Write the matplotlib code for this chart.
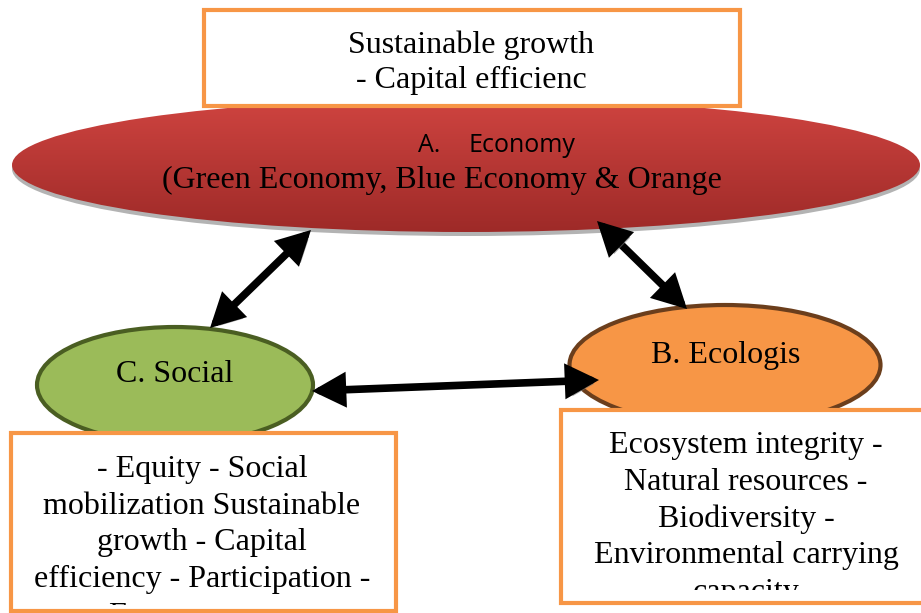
import matplotlib
matplotlib.use("Agg")
import numpy as np
import matplotlib.pyplot as plt
import matplotlib.patheffects as pe
from matplotlib.patches import Ellipse, Rectangle, FancyArrowPatch
from matplotlib.transforms import Bbox, TransformedBbox

# texts of the diagram
top_lines = ["Sustainable growth", "- Capital efficienc"]
economy_label = ["A.", "Economy"]
economy_sub = "(Green Economy, Blue Economy & Orange"
social_label = "C. Social"
ecology_label = "B. Ecologis"
social_lines = ["- Equity - Social", "mobilization Sustainable", "growth - Capital",
                "efficiency - Participation -", "Empowerment"]
ecology_lines = ["Ecosystem integrity -", "Natural resources -", "Biodiversity -",
                 "Environmental carrying", "capacity"]
links = [("C", "A"), ("A", "B"), ("C", "B")]

# layout (pixel coords, y down)
arrow_ends = {("C", "A"): ((210, 328), (311, 230)),
              ("A", "B"): ((597, 221), (687, 309)),
              ("C", "B"): ((312, 391), (599, 380))}

SERIF = "Liberation Serif"
ORANGE = "#F79646"
FS = 23

fig = plt.figure(figsize=(9.21, 6.13), dpi=100)
ax = fig.add_axes([0, 0, 1, 1])
ax.set_xlim(0, 921)
ax.set_ylim(613, 0)
ax.axis("off")


def box(x0, y0, x1, y1):
    r = Rectangle((x0, y0), x1 - x0, y1 - y0, facecolor="white", edgecolor=ORANGE,
                  lw=3, zorder=4)
    ax.add_patch(r)


def box_text(lines, cx, base0, step, clip):
    cb = TransformedBbox(Bbox([[clip[0], clip[1]], [clip[2], clip[3]]]), ax.transData)
    for i, line in enumerate(lines):
        t = ax.text(cx, base0 + i * step, line, ha="center", va="baseline",
                    fontsize=FS, family=SERIF, zorder=5)
        t.set_clip_on(True)
        t.set_clip_box(cb)


# economy ellipse: shadow + gradient fill
cx, cy, w, h = 466, 165, 908, 134
ax.add_patch(Ellipse((cx, cy + 4), w, h, facecolor="#b3b3b3", edgecolor="none", zorder=1))
eco = Ellipse((cx, cy), w, h, facecolor="none", edgecolor="none", zorder=2)
ax.add_patch(eco)
top_c = np.array([207, 68, 64]) / 255
bot_c = np.array([158, 42, 40]) / 255
g = np.linspace(0, 1, 200)[:, None]
grad = top_c[None, None, :] * (1 - g[..., None]) + bot_c[None, None, :] * g[..., None]
grad = np.repeat(grad, 2, axis=1)
im = ax.imshow(grad, extent=(cx - w / 2, cx + w / 2, cy + h / 2, cy - h / 2),
               origin="upper", aspect="auto", zorder=2, interpolation="bilinear")
im.set_clip_path(eco)
ax.set_xlim(0, 921)
ax.set_ylim(613, 0)

ax.text(418, 152, economy_label[0], ha="left", va="baseline", fontsize=18,
        family="Open Sans", zorder=3)
ax.text(468, 152, economy_label[1], ha="left", va="baseline", fontsize=18,
        family="Open Sans", zorder=3)
ax.text(442, 188, economy_sub, ha="center", va="baseline", fontsize=FS,
        family=SERIF, zorder=3)

# social and ecology ellipses
ax.add_patch(Ellipse((175, 385), 276, 116, facecolor="#9BBB59", edgecolor="#4A5E22",
                     lw=3, zorder=2))
ax.text(175, 382, social_label, ha="center", va="baseline", fontsize=FS,
        family=SERIF, zorder=3)
ax.add_patch(Ellipse((725, 365), 311, 120, facecolor=ORANGE, edgecolor="#6B3E1C",
                     lw=3, zorder=2))
ax.text(726, 363, ecology_label, ha="center", va="baseline", fontsize=FS,
        family=SERIF, zorder=3)

# text boxes
box(204, 10, 740, 106)
for i, line in enumerate(top_lines):
    ax.text(471, 53 + i * 35, line, ha="center", va="baseline", fontsize=FS,
            family=SERIF, zorder=5)

box(11, 433, 396, 611)
box_text(social_lines, 202, 477, 36.7, (11, 433, 396, 605))

box(561, 410, 925, 603)
box_text(ecology_lines, 746, 453, 36.8, (561, 410, 925, 590))

# double arrows with shadow
for a, b in links:
    p0, p1 = arrow_ends[(a, b)]
    arr = FancyArrowPatch(p0, p1, arrowstyle="<|-|>,head_length=0.8,head_width=0.42",
                          mutation_scale=20, lw=5.5, color="black", shrinkA=0, shrinkB=0,
                          joinstyle="miter", zorder=6)
    arr.set_path_effects([pe.SimplePatchShadow(offset=(2.5, -2.5), shadow_rgbFace="0.45",
                                               alpha=0.6), pe.Normal()])
    ax.add_patch(arr)

fig.savefig("out.png", dpi=100)
